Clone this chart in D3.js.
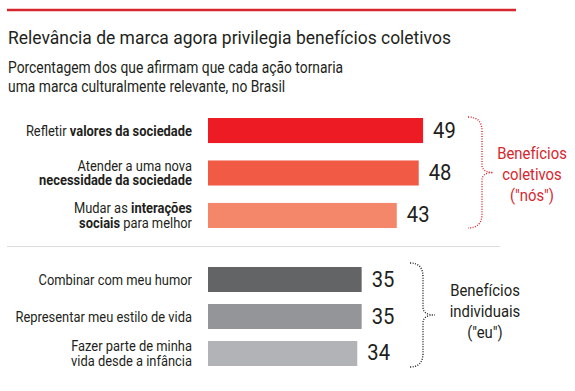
<!DOCTYPE html>
<html><head><meta charset="utf-8">
<script src="https://cdn.jsdelivr.net/npm/d3@7"></script>
<style>
body{margin:0;background:#fff;}
svg{display:block;}
text{font-family:Roboto,"Liberation Sans",sans-serif;}
</style></head>
<body>
<svg id="c" width="575" height="391"></svg>
<script>
const title = "Relevância de marca agora privilegia benefícios coletivos";
const subtitle = ["Porcentagem dos que afirmam que cada ação tornaria", "uma marca culturalmente relevante, no Brasil"];

// categories as rich-text lines: [text, bold]
const catsColetivos = [
  [[["Refletir ", false], ["valores da sociedade", true]]],
  [[["Atender a uma nova", false]], [["necessidade da sociedade", true]]],
  [[["Mudar as ", false], ["interações", true]], [["sociais", true], [" para melhor", false]]]
];
const valuesColetivos = [49, 48, 43];
const colorsColetivos = ["#ed1c24", "#f15a45", "#f4866a"];

const catsIndividuais = [
  [[["Combinar com meu humor", false]]],
  [[["Representar meu estilo de vida", false]]],
  [[["Fazer parte de minha", false]], [["vida desde a infância", false]]]
];
const valuesIndividuais = [35, 35, 34];
const colorsIndividuais = ["#636466", "#939598", "#b1b3b6"];

const groupLabels = [["Benefícios", "coletivos", "(\"nós\")"], ["Benefícios", "individuais", "(\"eu\")"]];

const svg = d3.select("#c");

// condensed text helper: horizontal squeeze around anchor point
function ctext(parent, x, y, sx, size, anchor) {
  return parent.append("text")
    .attr("transform", `translate(${x},${y}) scale(${sx},1)`)
    .attr("font-size", size).attr("text-anchor", anchor || "start").attr("fill", "#231f20");
}

// top rule
svg.append("line").attr("x1", 7).attr("x2", 516).attr("y1", 10).attr("y2", 10)
  .attr("stroke", "#d7262e").attr("stroke-width", 2.5);

ctext(svg, 8, 44, 0.945, 18.5).text(title);
const sub = ctext(svg, 8, 73.3, 0.815, 17);
subtitle.forEach((s, i) => {
  sub.append("tspan").attr("x", 0).attr("y", i * 19).text(s);
});

const x = d3.scaleLinear().domain([0, 50]).range([208, 427.5]);

function group(cats, values, colors, y0, y1, pad) {
  const idx = d3.range(cats.length);
  const y = d3.scaleBand().domain(idx).range([y0, y1]).paddingInner(pad).paddingOuter(0);
  const g = svg.append("g");
  g.selectAll("rect").data(idx).join("rect")
    .attr("x", x(0)).attr("y", i => y(i))
    .attr("width", i => x(values[i]) - x(0)).attr("height", y.bandwidth())
    .attr("fill", i => colors[i]);
  idx.forEach(i => {
    const cy = y(i) + y.bandwidth() / 2;
    ctext(g, x(values[i]) + 10, cy + 7, 0.92, 22).text(values[i]);
    const lines = cats[i];
    const lh = 14.3;
    const t = ctext(g, 192, cy + 5 - (lines.length - 1) / 2 * lh, 0.89, 14.5, "end");
    lines.forEach((parts, li) => {
      parts.forEach((p, pi) => {
        const ts = t.append("tspan").attr("font-weight", p[1] ? "bold" : "normal").text(p[0]);
        if (pi === 0) ts.attr("x", 0).attr("y", li * lh);
      });
    });
  });
  return y;
}

group(catsColetivos, valuesColetivos, colorsColetivos, 118, 228, 0.41);
group(catsIndividuais, valuesIndividuais, colorsIndividuais, 267, 366, 0.324);

// separator
svg.append("line").attr("x1", 7).attr("x2", 500).attr("y1", 246.5).attr("y2", 246.5)
  .attr("stroke", "#dcdcdc").attr("stroke-width", 1);

// braces
function brace(xl, xm, xt, yt, yb, color) {
  const ym = (yt + yb) / 2;
  const p = d3.path();
  p.moveTo(xl, yt);
  p.quadraticCurveTo(xm, yt, xm, yt + 14);
  p.lineTo(xm, ym - 8);
  p.quadraticCurveTo(xm, ym, xt, ym);
  p.quadraticCurveTo(xm, ym, xm, ym + 8);
  p.lineTo(xm, yb - 14);
  p.quadraticCurveTo(xm, yb, xl, yb);
  svg.append("path").attr("d", p.toString()).attr("fill", "none")
    .attr("stroke", color).attr("stroke-width", 1.4).attr("stroke-dasharray", "1,1.5");
}
brace(468, 482, 493, 117, 228, "#d7262e");
brace(410, 423, 435, 263, 367, "#231f20");

function glabel(lines, cx, y0, color) {
  const t = ctext(svg, cx, y0, 0.93, 16, "middle").attr("fill", color);
  lines.forEach((l, i) => {
    t.append("tspan").attr("x", 0).attr("y", i * 21.5).text(l);
  });
}
glabel(groupLabels[0], 532, 158.5, "#d7262e");
glabel(groupLabels[1], 485, 295.5, "#231f20");
</script>
</body></html>
